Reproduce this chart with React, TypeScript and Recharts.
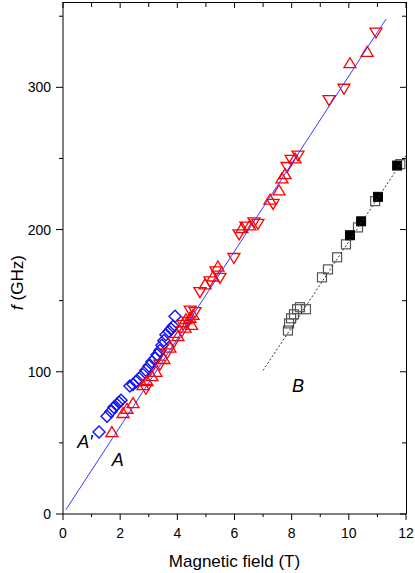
import { ScatterChart, Scatter, XAxis, YAxis, ReferenceDot } from "recharts";

// tick values (odd ones are minor ticks)
const X_TICKS = [0, 1, 2, 3, 4, 5, 6, 7, 8, 9, 10, 11, 12];
const Y_TICKS = [0, 50, 100, 150, 200, 250, 300, 350];
const X_MAX = 12;
const Y_MAX = 360;

// branch A' : open blue diamonds
const diamondsA2 = [
  { x: 1.26, y: 57.6 }, { x: 1.54, y: 68.8 }, { x: 1.68, y: 72 }, { x: 1.78, y: 75 },
  { x: 1.89, y: 77 }, { x: 1.96, y: 78.6 }, { x: 2.03, y: 80 }, { x: 2.34, y: 90 },
  { x: 2.45, y: 91 }, { x: 2.55, y: 93 }, { x: 2.66, y: 95.5 }, { x: 2.8, y: 98 },
  { x: 2.9, y: 101 }, { x: 3.01, y: 104 }, { x: 3.11, y: 107 }, { x: 3.22, y: 109.5 },
  { x: 3.29, y: 112 }, { x: 3.39, y: 115 }, { x: 3.46, y: 118.7 }, { x: 3.53, y: 122 },
  { x: 3.6, y: 126 }, { x: 3.71, y: 128.5 }, { x: 3.78, y: 130 }, { x: 3.85, y: 132 },
  { x: 3.92, y: 139 },
];

// branch A : red triangles (up / down)
const triUpA = [
  { x: 1.71, y: 57.6 }, { x: 2.1, y: 71 }, { x: 2.24, y: 74 }, { x: 2.45, y: 78 },
  { x: 2.8, y: 90.6 }, { x: 2.94, y: 93.4 }, { x: 3.11, y: 97 }, { x: 3.25, y: 100 },
  { x: 3.53, y: 109 }, { x: 3.74, y: 117 }, { x: 4.02, y: 125 }, { x: 4.27, y: 131 },
  { x: 4.3, y: 137 }, { x: 4.44, y: 138 }, { x: 4.5, y: 133 }, { x: 4.55, y: 140 },
  { x: 4.97, y: 161.5 }, { x: 5.25, y: 167 }, { x: 5.42, y: 174 }, { x: 6.26, y: 201 },
  { x: 6.54, y: 203 }, { x: 7.24, y: 221 }, { x: 7.56, y: 227.5 }, { x: 7.66, y: 236 },
  { x: 7.77, y: 239 }, { x: 8.12, y: 250 }, { x: 10.04, y: 317 }, { x: 10.64, y: 325 },
];
const triDownA = [
  { x: 2.9, y: 88 }, { x: 3.39, y: 105 }, { x: 3.64, y: 113 }, { x: 3.88, y: 121 },
  { x: 4.16, y: 128.5 }, { x: 4.2, y: 133 }, { x: 4.37, y: 135 }, { x: 4.45, y: 143 },
  { x: 4.62, y: 142 }, { x: 4.79, y: 156 }, { x: 5.14, y: 163.6 }, { x: 5.35, y: 170.6 },
  { x: 5.49, y: 166 }, { x: 5.98, y: 180 }, { x: 6.16, y: 196.6 }, { x: 6.4, y: 202 },
  { x: 6.68, y: 205 }, { x: 6.82, y: 204 }, { x: 7.35, y: 218 }, { x: 7.84, y: 244 },
  { x: 7.98, y: 249 }, { x: 8.22, y: 252 }, { x: 9.31, y: 291 }, { x: 9.83, y: 299 },
  { x: 10.95, y: 338.5 },
];

// branch B : open and filled squares
const openSqB = [
  { x: 7.87, y: 129 }, { x: 7.91, y: 134 }, { x: 7.98, y: 137.6 }, { x: 8.08, y: 140.4 },
  { x: 8.19, y: 144 }, { x: 8.29, y: 145.4 }, { x: 8.5, y: 144 }, { x: 9.06, y: 166.4 },
  { x: 9.27, y: 172 }, { x: 9.59, y: 180.5 }, { x: 9.9, y: 189.6 }, { x: 10.32, y: 201.5 },
  { x: 10.92, y: 220 }, { x: 11.8, y: 246 },
];
const filledSqB = [
  { x: 10.04, y: 196 }, { x: 10.43, y: 205.8 }, { x: 11.02, y: 223 }, { x: 11.69, y: 245 },
];

// fit lines
const fitA = [{ x: 0.1, y: 3 }, { x: 11.3, y: 348 }];
const fitB = [{ x: 7.0, y: 101 }, { x: 12.0, y: 252 }];

const FONT = "'Liberation Sans', Arial, sans-serif";

// plot box (chart margins are derived from it)
const W = 415;
const H = 573;
const PLOT = { left: 63, top: 2, width: 343, height: 512 };

const Diamond = ({ cx, cy }: any) => (
  <polygon points={`${cx},${cy - 6} ${cx + 6},${cy} ${cx},${cy + 6} ${cx - 6},${cy}`}
    fill="none" stroke="#1010ff" strokeWidth={1.4} />
);
const TriUp = ({ cx, cy }: any) => (
  <polygon points={`${cx - 6},${cy + 4.5} ${cx + 6},${cy + 4.5} ${cx},${cy - 5.5}`}
    fill="none" stroke="#ff0000" strokeWidth={1.3} />
);
const TriDown = ({ cx, cy }: any) => (
  <polygon points={`${cx - 6},${cy - 4.5} ${cx + 6},${cy - 4.5} ${cx},${cy + 5.5}`}
    fill="none" stroke="#ff0000" strokeWidth={1.3} />
);
const OpenSq = ({ cx, cy }: any) => (
  <rect x={cx - 4.5} y={cy - 4.5} width={9} height={9} fill="none" stroke="#555" strokeWidth={1.2} />
);
const FilledSq = ({ cx, cy }: any) => (
  <rect x={cx - 4.5} y={cy - 4.5} width={9} height={9} fill="#000" stroke="#000" />
);
const NoDot = () => <g />;

// bottom tick also draws the matching inward tick on the top edge,
// plus the top frame line (at 0) and the right frame line (at 12)
const BottomTick = ({ x, y, payload }: any) => {
  const v = payload.value;
  const major = v % 2 === 0;
  const top = y - PLOT.height;
  return (
    <g>
      <line x1={x} x2={x} y1={y} y2={y + (major ? 6 : 3)} stroke="#000" />
      <line x1={x} x2={x} y1={top} y2={top + (major ? 6 : 5)} stroke="#000" />
      {v === 0 && <line x1={x} x2={x + PLOT.width + 0.5} y1={top + 0.5} y2={top + 0.5} stroke="#000" />}
      {v === X_MAX && <line x1={x + 0.5} x2={x + 0.5} y1={top} y2={y} stroke="#000" />}
      {major && (
        <text x={x} y={y + 24} textAnchor="middle" fontSize={14} fontFamily={FONT} fill="#000">
          {v}
        </text>
      )}
    </g>
  );
};
// left tick also draws the matching inward tick on the right edge
const LeftTick = ({ x, y, payload }: any) => {
  const major = payload.value % 100 === 0;
  const right = x + PLOT.width;
  return (
    <g>
      <line x1={x - (major ? 7 : 4)} x2={x} y1={y} y2={y} stroke="#000" />
      <line x1={right - (major ? 6 : 4)} x2={right} y1={y} y2={y} stroke="#000" />
      {major && (
        <text x={x - 12} y={y + 5} textAnchor="end" fontSize={14} fontFamily={FONT} fill="#000">
          {payload.value}
        </text>
      )}
    </g>
  );
};

const YTitle = ({ viewBox }: any) => {
  const cx = viewBox.x + 19;
  const cy = viewBox.y + viewBox.height * 0.548;
  return (
    <text x={cx} y={cy} transform={`rotate(-90 ${cx} ${cy})`} textAnchor="middle" dominantBaseline="middle"
      fontSize={17} fontFamily={FONT} fill="#000">
      <tspan fontStyle="italic">f</tspan> (GHz)
    </text>
  );
};

const tag = (text: string) => ({
  value: text, position: "center" as const, fontSize: 18, fontStyle: "italic", fontFamily: FONT, fill: "#000",
});

export default function App() {
  return (
    <div style={{ width: W, height: H }}>
      <style>{`body{margin:0}`}</style>
      <ScatterChart width={W} height={H}
        margin={{ top: PLOT.top, right: W - PLOT.left - PLOT.width, bottom: 0, left: 0 }}>
        <XAxis dataKey="x" type="number" domain={[0, X_MAX]} ticks={X_TICKS} interval={0}
          height={H - PLOT.top - PLOT.height} tickSize={0} tickMargin={0} tickLine={false} stroke="#000" tick={<BottomTick />}
          label={{ value: "Magnetic field (T)", position: "insideBottom", offset: 6, fontSize: 17, fontFamily: FONT, fill: "#000" }} />
        <YAxis dataKey="y" type="number" domain={[0, Y_MAX]} ticks={Y_TICKS} interval={0}
          width={PLOT.left} tickSize={0} tickMargin={0} tickLine={false} stroke="#000" tick={<LeftTick />}
          label={<YTitle />} />

        <Scatter data={openSqB} shape={<OpenSq />} isAnimationActive={false} />
        <Scatter data={filledSqB} shape={<FilledSq />} isAnimationActive={false} />
        <Scatter data={diamondsA2} shape={<Diamond />} isAnimationActive={false} />
        <Scatter data={triUpA} shape={<TriUp />} isAnimationActive={false} />
        <Scatter data={triDownA} shape={<TriDown />} isAnimationActive={false} />
        <Scatter data={fitA} shape={<NoDot />} line={{ stroke: "#3a3aff", strokeWidth: 1 }} isAnimationActive={false} />
        <Scatter data={fitB} shape={<NoDot />} line={{ stroke: "#333", strokeWidth: 1, strokeDasharray: "2 2" }} isAnimationActive={false} />

        <ReferenceDot x={0.77} y={51} r={0} stroke="none" label={tag("A′")} />
        <ReferenceDot x={1.92} y={38} r={0} stroke="none" label={tag("A")} />
        <ReferenceDot x={8.22} y={90} r={0} stroke="none" label={tag("B")} />
      </ScatterChart>
    </div>
  );
}
